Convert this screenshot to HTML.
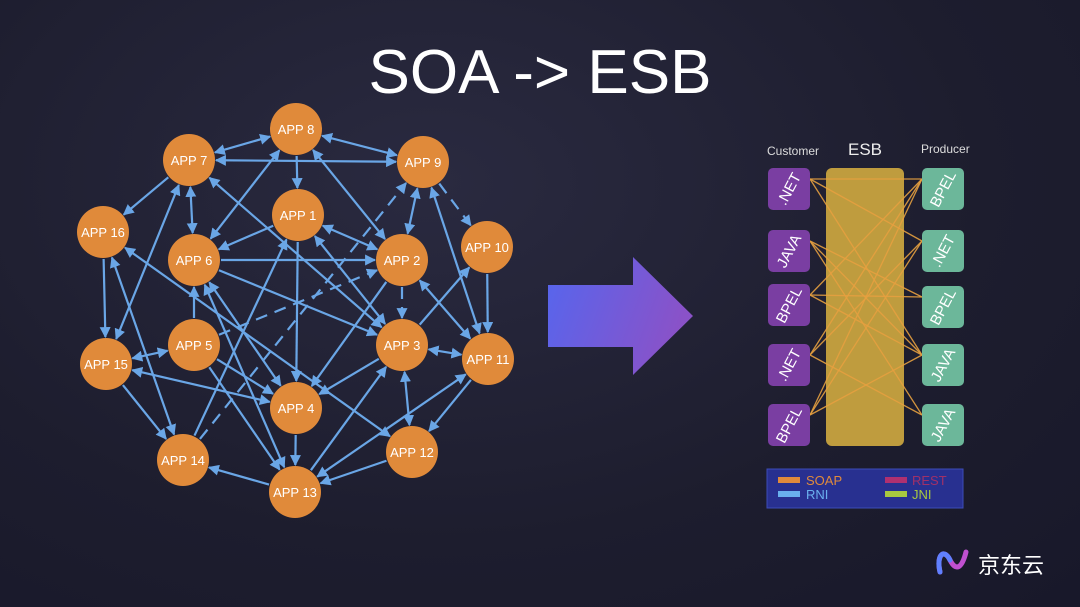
<!DOCTYPE html>
<html><head><meta charset="utf-8"><style>
html,body{margin:0;padding:0}
body{width:1080px;height:607px;overflow:hidden;background:radial-gradient(ellipse at 40% 30%,#2a2a40 0%,#1d1d2e 60%,#18182a 100%);font-family:"Liberation Sans","Noto Sans CJK SC",sans-serif;position:relative}
</style></head><body>
<svg id="s" width="1080" height="607" viewBox="0 0 1080 607" style="position:absolute;left:0;top:0">
<defs>
<marker id="a" viewBox="0 0 10 10" refX="9" refY="5" markerWidth="5" markerHeight="5" orient="auto-start-reverse"><path d="M0,0L10,5L0,10z" fill="#6aa6e6"/></marker>
<linearGradient id="g" x1="0" x2="1" y1="0" y2="0.3"><stop offset="0" stop-color="#5566ee"/><stop offset="1" stop-color="#8a52c8"/></linearGradient>
</defs>
<text x="540" y="93" fill="#fff" font-size="62" text-anchor="middle" font-family="Liberation Sans,sans-serif">SOA -&gt; ESB</text>
<g id="edges"></g><g id="nodes"></g>
<path d="M548,285H633V257L693,316L633,375V347H548Z" fill="url(#g)"/>
<text x="767" y="155" fill="#ddd" font-size="12">Customer</text>
<text x="865" y="155" fill="#eee" font-size="17" text-anchor="middle">ESB</text>
<text x="921" y="153" fill="#ddd" font-size="12">Producer</text>
<rect x="826" y="168" width="78" height="278" rx="6" fill="#bf9c3e"/>
<g id="esb"></g>
<rect x="767" y="469" width="196" height="39" fill="#283090" stroke="#3c4cb8"/>
<rect x="778" y="477" width="22" height="6" fill="#e08a3c"/><text x="806" y="485" fill="#e08a3c" font-size="13">SOAP</text>
<rect x="778" y="491" width="22" height="6" fill="#6ab0ee"/><text x="806" y="499" fill="#6ab0ee" font-size="13">RNI</text>
<rect x="885" y="477" width="22" height="6" fill="#b03070"/><text x="912" y="485" fill="#a03068" font-size="13">REST</text>
<rect x="885" y="491" width="22" height="6" fill="#a8c840"/><text x="912" y="499" fill="#a8c840" font-size="13">JNI</text>
<path d="M940,572C936,555 944,548 950,560C956,572 962,568 966,552" stroke="#c050d0" stroke-width="5" fill="none" stroke-linecap="round"/>
<path d="M940,572C936,555 944,548 950,560" stroke="#6080ff" stroke-width="5" fill="none" stroke-linecap="round"/>
<text x="978" y="573" fill="#fff" font-size="22" font-family="Noto Sans CJK SC,sans-serif">京东云</text>
</svg>
<script>
var N={8:[296,129],7:[189,160],9:[423,162],1:[298,215],16:[103,232],6:[194,260],2:[402,260],10:[487,247],5:[194,345],3:[402,345],15:[106,364],11:[488,359],4:[296,408],12:[412,452],14:[183,460],13:[295,492]};
var E=[[8,7,1],[8,9,1],[8,1,0],[6,8,1],[2,8,1],[7,16,0],[7,9,1],[7,6,1],[3,7,1],[15,7,1],[2,9,1],[9,10,0,1],[9,11,1],[14,9,0,1],[1,6,0],[1,2,1],[1,4,0],[14,1,0],[3,1,1],[16,15,0],[16,14,1],[16,12,1],[6,2,0],[6,3,0],[6,4,1],[6,13,1],[5,6,0],[2,3,0,1],[2,11,1],[2,4,0],[5,2,0,1],[3,10,0],[10,11,0],[3,11,1],[3,12,1],[13,3,0],[3,4,0],[13,11,1],[11,12,0],[15,5,1],[15,4,1],[15,14,0],[5,4,0],[5,13,0],[12,13,0],[13,14,0],[4,13,0]];
var h='';E.forEach(function(e){var a=N[e[0]],b=N[e[1]],dx=b[0]-a[0],dy=b[1]-a[1],d=Math.hypot(dx,dy),ux=dx/d,uy=dy/d,r=27;
h+='<line x1="'+(a[0]+ux*r)+'" y1="'+(a[1]+uy*r)+'" x2="'+(b[0]-ux*r)+'" y2="'+(b[1]-uy*r)+'" stroke="#6aa6e6" stroke-width="2.2" marker-end="url(#a)"'+(e[2]?' marker-start="url(#a)"':'')+(e[3]?' stroke-dasharray="12 8"':'')+'/>';});
document.getElementById('edges').innerHTML=h;
var n='';for(var k in N){var p=N[k];n+='<circle cx="'+p[0]+'" cy="'+p[1]+'" r="26" fill="#e08a3a"/><text x="'+p[0]+'" y="'+(p[1]+5)+'" fill="#fff" font-size="13" text-anchor="middle">APP '+k+'</text>';}
document.getElementById('nodes').innerHTML=n;
var C=[[168,'.NET'],[230,'JAVA'],[284,'BPEL'],[344,'.NET'],[404,'BPEL']],P=[[168,'BPEL'],[230,'.NET'],[286,'BPEL'],[344,'JAVA'],[404,'JAVA']];
var L=[[0,0],[0,1],[0,3],[1,2],[1,4],[2,0],[2,2],[2,3],[3,0],[3,1],[3,4],[4,1],[4,3],[1,3],[4,0]];
var s='';L.forEach(function(l){s+='<line x1="810" y1="'+(C[l[0]][0]+11)+'" x2="922" y2="'+(P[l[1]][0]+11)+'" stroke="#e6a040" stroke-width="1.3" opacity="0.9"/>';});
C.forEach(function(c){s+='<rect x="768" y="'+c[0]+'" width="42" height="42" rx="5" fill="#7a3ea2"/><text transform="translate(789,'+(c[0]+21)+') rotate(-62)" fill="#fff" font-size="15" text-anchor="middle" dy="5">'+c[1]+'</text>';});
P.forEach(function(c){s+='<rect x="922" y="'+c[0]+'" width="42" height="42" rx="5" fill="#6cb79a"/><text transform="translate(943,'+(c[0]+21)+') rotate(-62)" fill="#fff" font-size="15" text-anchor="middle" dy="5">'+c[1]+'</text>';});
document.getElementById('esb').innerHTML=s;
</script>
</body></html>
